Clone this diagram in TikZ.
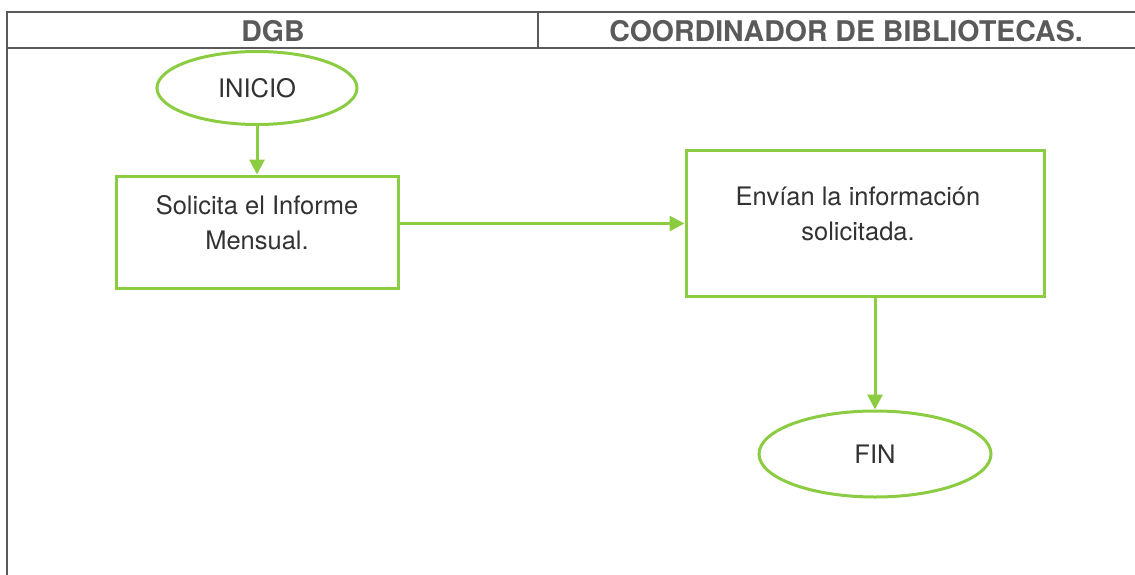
\documentclass[tikz,border=0pt]{standalone}
\usepackage{fontspec}
\setmainfont{TeX Gyre Heros}
\usetikzlibrary{arrows.meta,shapes.geometric}
\definecolor{flowgreen}{RGB}{140,204,66}
\definecolor{framegray}{RGB}{90,90,90}
\definecolor{inkgray}{RGB}{50,50,50}
\tikzset{
  frameline/.style={draw=framegray,line width=2pt},
  headtext/.style={text=framegray,font=\fontsize{28.5}{32}\selectfont\bfseries,inner sep=0pt},
  stepbox/.style={draw=flowgreen,line width=3pt,rectangle,inner sep=0pt},
  terminal/.style={draw=flowgreen,line width=3pt,ellipse,inner sep=0pt,text=inkgray,
    font=\fontsize{25.5}{35}\selectfont},
  bodytext/.style={text=inkgray,font=\fontsize{25.5}{35}\selectfont,align=center,inner sep=0pt},
  flow/.style={draw=flowgreen,line width=3pt,-{Triangle[length=15pt,width=15pt]}}
}
\begin{document}
\begin{tikzpicture}[x=1pt,y=-1pt]
\useasboundingbox (0,0) rectangle (1135,575);
% swimlane frame
\coordinate (tl) at (7,12);
\coordinate (tr) at (1135,12);
\coordinate (hl) at (7,48);
\coordinate (hr) at (1135,48);
\coordinate (bl) at (7,575);
\coordinate (dt) at (538,12);
\coordinate (db) at (538,48);
\draw[frameline] (tr) -- (tl) -- (bl);
\draw[frameline] (hl) -- (hr);
\draw[frameline] (dt) -- (db);
\node[headtext] (h1) at (273,31) {DGB};
\node[headtext] (h2) at (846,31) {COORDINADOR DE BIBLIOTECAS.};
% flow elements
\node[terminal,minimum width=200pt,minimum height=73pt] (ini) at (257,88) {INICIO};
\node[stepbox,minimum width=282pt,minimum height=112pt] (s1) at (257,232) {};
\node[bodytext] (t1) at (257,223) {Solicita el Informe\\Mensual.};
\node[stepbox,minimum width=358pt,minimum height=145pt] (s2) at (865,223.5) {};
\node[bodytext] (t2) at (858,214) {Envían la información\\solicitada.};
\node[terminal,minimum width=232pt,minimum height=86pt] (fin) at (875,454) {FIN};
% connectors
\draw[flow] (ini.south) -- (s1.north);
\draw[flow] (s1.east |- s2.west) -- (s2.west);
\draw[flow] (s2.south -| fin.north) -- (fin.north);
\end{tikzpicture}
\end{document}
